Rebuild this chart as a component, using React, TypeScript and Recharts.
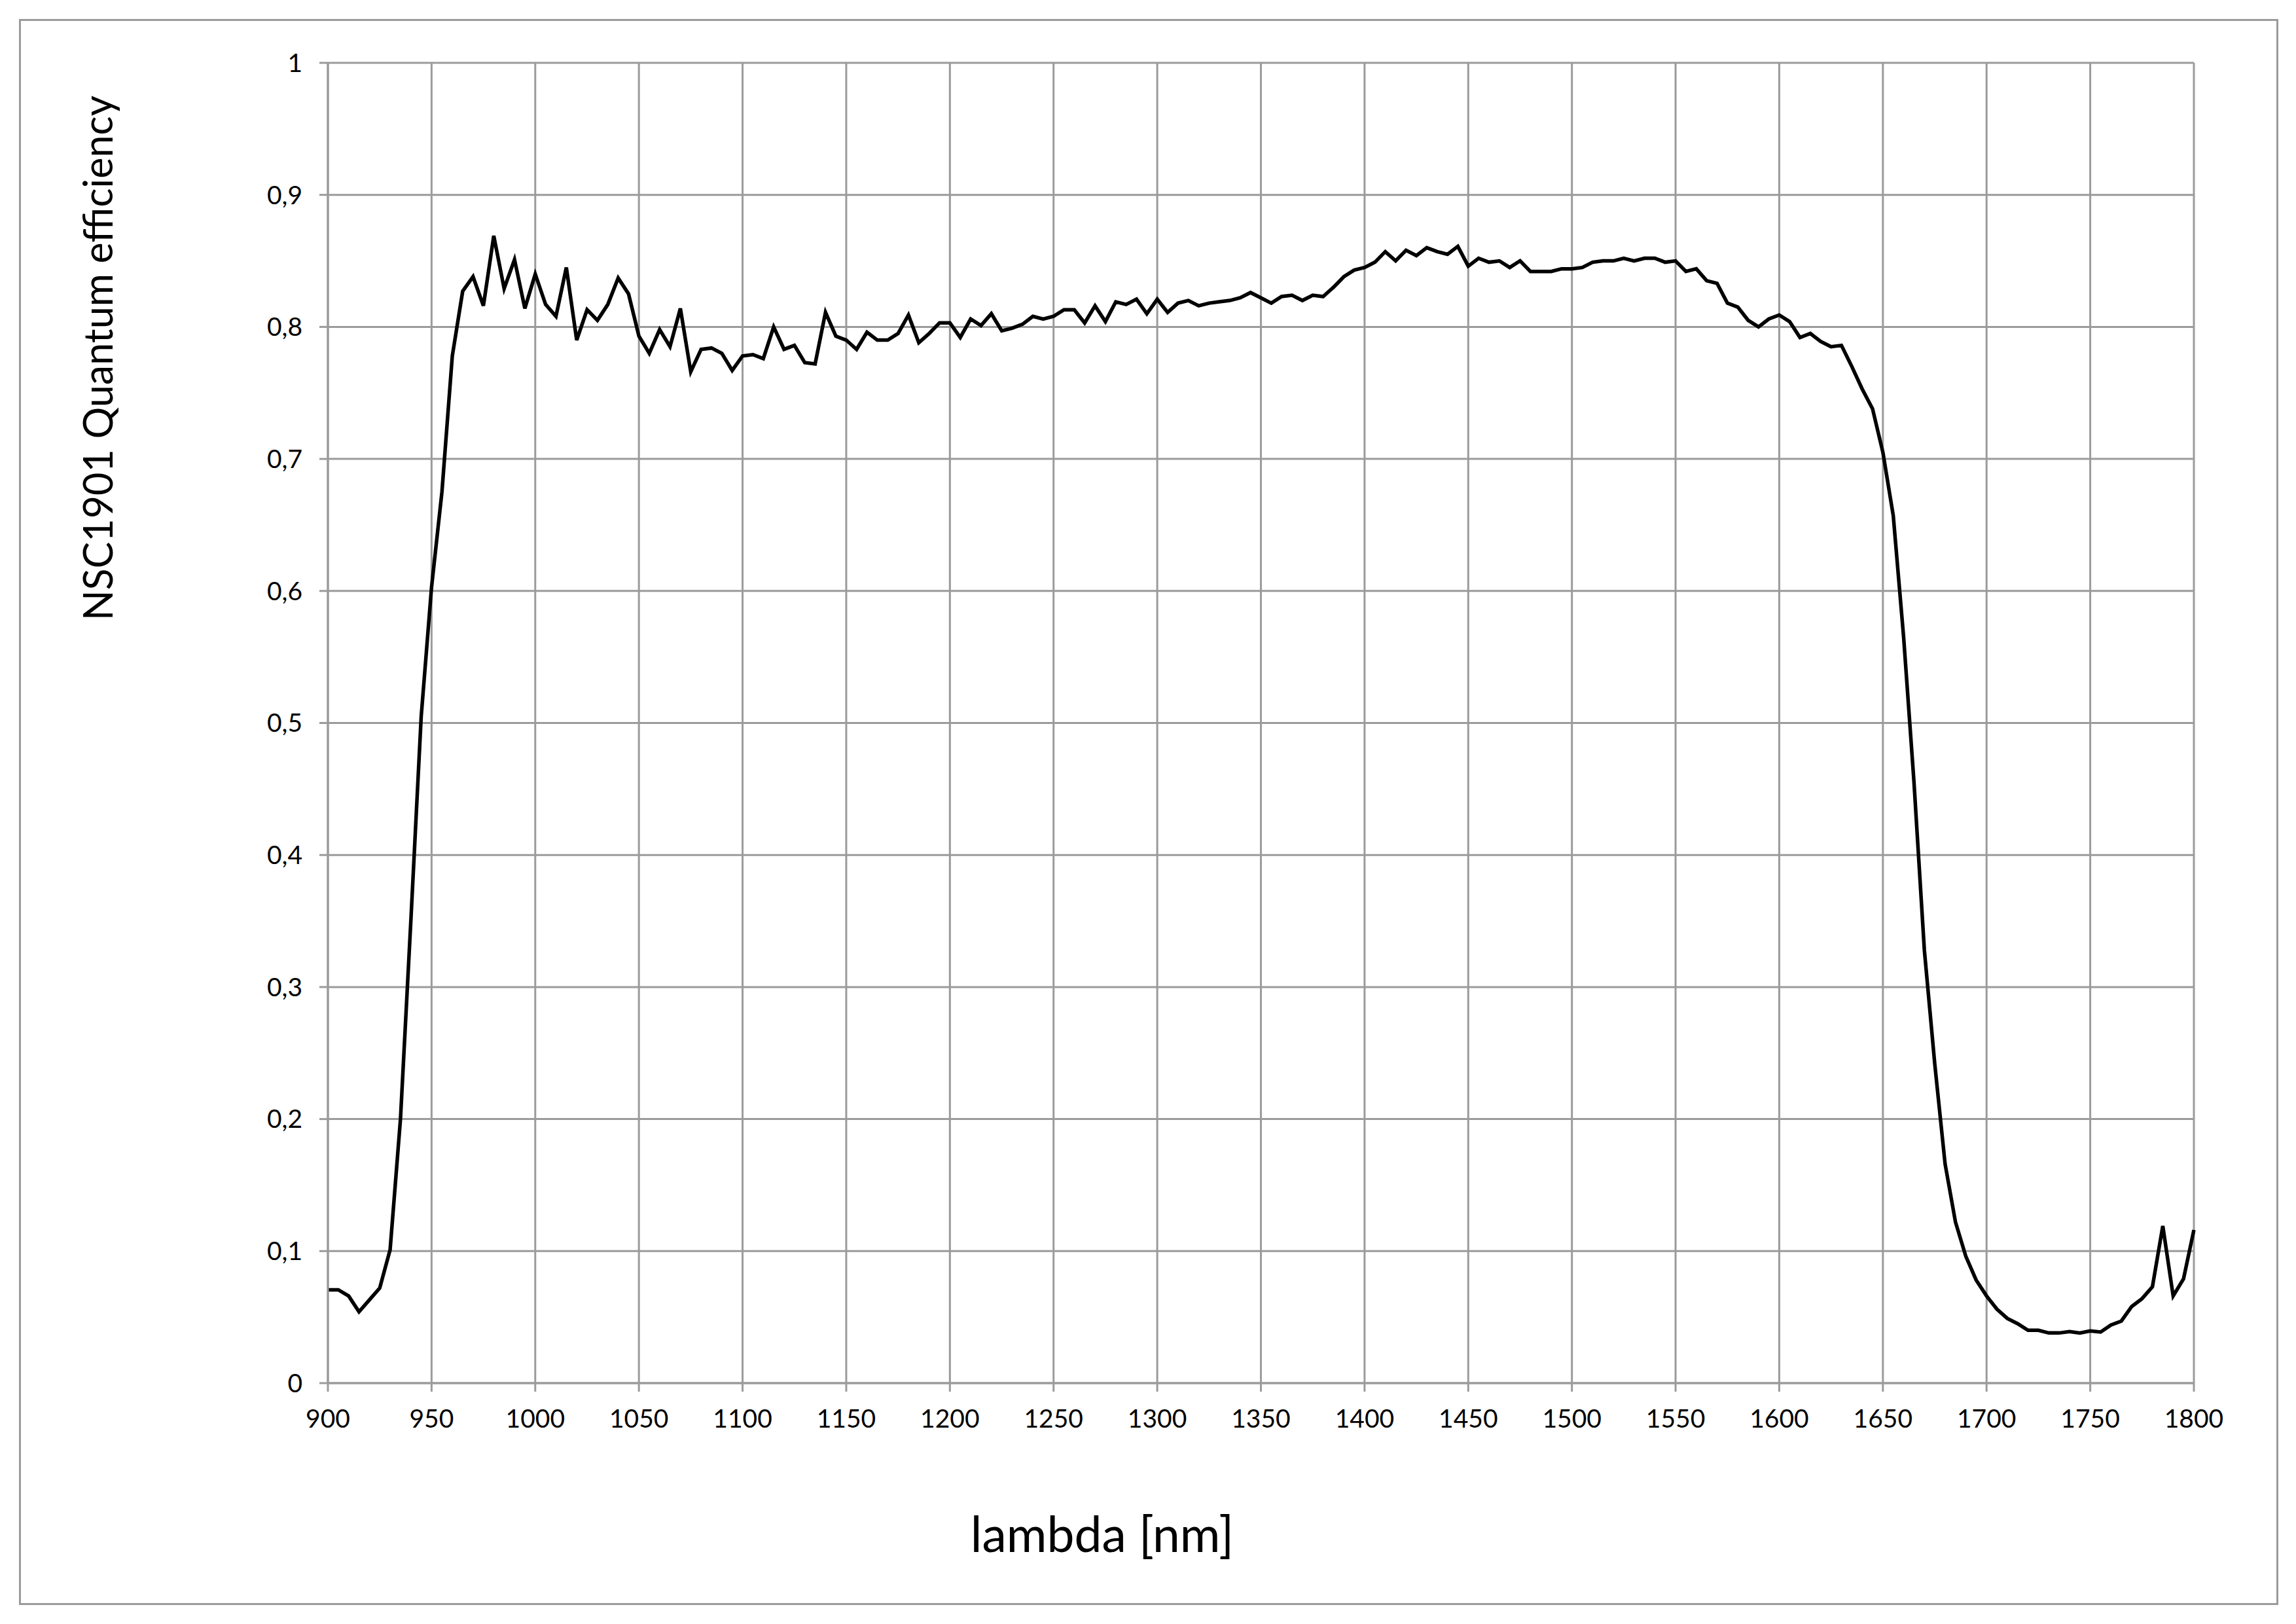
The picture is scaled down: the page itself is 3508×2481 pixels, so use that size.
import { LineChart, Line, XAxis, YAxis, CartesianGrid } from "recharts";

const W = 3508;
const H = 2481;
const GRID = "#9b9b9b";
const FONT = "Lato, 'Open Sans', sans-serif";

// wavelength samples [nm]
const wavelengths = [
  900, 905, 910, 915, 920, 925, 930, 935, 940, 945, 950, 955, 960, 965, 970, 975, 980, 985, 990, 995,
  1000, 1005, 1010, 1015, 1020, 1025, 1030, 1035, 1040, 1045, 1050, 1055, 1060, 1065, 1070, 1075, 1080, 1085, 1090, 1095,
  1100, 1105, 1110, 1115, 1120, 1125, 1130, 1135, 1140, 1145, 1150, 1155, 1160, 1165, 1170, 1175, 1180, 1185, 1190, 1195,
  1200, 1205, 1210, 1215, 1220, 1225, 1230, 1235, 1240, 1245, 1250, 1255, 1260, 1265, 1270, 1275, 1280, 1285, 1290, 1295,
  1300, 1305, 1310, 1315, 1320, 1325, 1330, 1335, 1340, 1345, 1350, 1355, 1360, 1365, 1370, 1375, 1380, 1385, 1390, 1395,
  1400, 1405, 1410, 1415, 1420, 1425, 1430, 1435, 1440, 1445, 1450, 1455, 1460, 1465, 1470, 1475, 1480, 1485, 1490, 1495,
  1500, 1505, 1510, 1515, 1520, 1525, 1530, 1535, 1540, 1545, 1550, 1555, 1560, 1565, 1570, 1575, 1580, 1585, 1590, 1595,
  1600, 1605, 1610, 1615, 1620, 1625, 1630, 1635, 1640, 1645, 1650, 1655, 1660, 1665, 1670, 1675, 1680, 1685, 1690, 1695,
  1700, 1705, 1710, 1715, 1720, 1725, 1730, 1735, 1740, 1745, 1750, 1755, 1760, 1765, 1770, 1775, 1780, 1785, 1790, 1795,
  1800,
];

// quantum efficiency
const efficiency = [
  0.0707, 0.0707, 0.066, 0.054, 0.063, 0.072, 0.101, 0.2, 0.35, 0.505, 0.603, 0.675, 0.778, 0.827, 0.838, 0.816, 0.869, 0.829, 0.851, 0.814,
  0.84, 0.817, 0.808, 0.845, 0.79, 0.813, 0.805, 0.817, 0.837, 0.825, 0.793, 0.78, 0.798, 0.785, 0.814, 0.766, 0.783, 0.784, 0.78, 0.767,
  0.778, 0.779, 0.776, 0.8, 0.783, 0.786, 0.773, 0.772, 0.811, 0.793, 0.79, 0.783, 0.796, 0.79, 0.79, 0.795, 0.809, 0.788, 0.795, 0.803,
  0.803, 0.792, 0.806, 0.801, 0.81, 0.797, 0.799, 0.802, 0.808, 0.806, 0.808, 0.813, 0.813, 0.803, 0.816, 0.804, 0.819, 0.817, 0.821, 0.81,
  0.821, 0.811, 0.818, 0.82, 0.816, 0.818, 0.819, 0.82, 0.822, 0.826, 0.822, 0.818, 0.823, 0.824, 0.82, 0.824, 0.823, 0.83, 0.838, 0.843,
  0.845, 0.849, 0.857, 0.85, 0.858, 0.854, 0.86, 0.857, 0.855, 0.861, 0.846, 0.852, 0.849, 0.85, 0.845, 0.85, 0.842, 0.842, 0.842, 0.844,
  0.844, 0.845, 0.849, 0.85, 0.85, 0.852, 0.85, 0.852, 0.852, 0.849, 0.85, 0.842, 0.844, 0.835, 0.833, 0.818, 0.815, 0.805, 0.8, 0.806,
  0.809, 0.804, 0.792, 0.795, 0.789, 0.785, 0.786, 0.77, 0.753, 0.738, 0.705, 0.657, 0.565, 0.455, 0.328, 0.242, 0.166, 0.122, 0.096, 0.078,
  0.066, 0.056, 0.049, 0.045, 0.04, 0.04, 0.038, 0.038, 0.039, 0.038, 0.0395, 0.0387, 0.044, 0.047, 0.058, 0.064, 0.073, 0.119, 0.066, 0.079,
  0.116,
];

const xTicks = [900, 950, 1000, 1050, 1100, 1150, 1200, 1250, 1300, 1350, 1400, 1450, 1500, 1550, 1600, 1650, 1700, 1750, 1800];
const yTicks = [0, 0.1, 0.2, 0.3, 0.4, 0.5, 0.6, 0.7, 0.8, 0.9, 1];

const xTitle = "lambda [nm]";
const yTitle = "NSC1901 Quantum efficiency";

const data = wavelengths.map((nm, i) => ({ nm, qe: efficiency[i] }));

// Excel-style decimal comma
const fmtY = (v: number) => (v === 0 || v === 1 ? String(v) : v.toFixed(1).replace(".", ","));

export default function App() {
  return (
    <div style={{ position: "absolute", left: 0, top: 0, width: W, height: H, background: "#fff" }}>
      {/* chart area border */}
      <div
        style={{
          position: "absolute",
          left: 29,
          top: 29,
          width: 3452,
          height: 2423,
          border: `3px solid ${GRID}`,
          boxSizing: "border-box",
        }}
      />
      <div style={{ position: "absolute", left: 0, top: 0 }}>
        {/* axis width/height take up the left/bottom space, so margins stay 0 there */}
        <LineChart width={W} height={H} data={data} margin={{ top: 96, right: 156, bottom: 0, left: 0 }}>
          <CartesianGrid stroke={GRID} strokeWidth={3} />
          <XAxis
            dataKey="nm"
            type="number"
            domain={[900, 1800]}
            ticks={xTicks}
            interval={0}
            height={368}
            tickSize={13}
            tickMargin={27}
            axisLine={{ stroke: GRID, strokeWidth: 3 }}
            tickLine={{ stroke: GRID, strokeWidth: 3 }}
            tick={{ fill: "#000", fontSize: 39, fontFamily: FONT }}
            label={{
              value: xTitle,
              content: () => (
                <text x={1684} y={2371} textAnchor="middle" fontSize={75} fontFamily={FONT} fill="#000">
                  {xTitle}
                </text>
              ),
            }}
          />
          <YAxis
            type="number"
            domain={[0, 1]}
            ticks={yTicks}
            interval={0}
            width={501}
            tickSize={13}
            tickMargin={26}
            tickFormatter={fmtY}
            axisLine={{ stroke: GRID, strokeWidth: 3 }}
            tickLine={{ stroke: GRID, strokeWidth: 3 }}
            tick={{ fill: "#000", fontSize: 39, fontFamily: FONT }}
            label={{
              value: yTitle,
              content: () => (
                <text
                  x={172}
                  y={547}
                  transform="rotate(-90 172 547)"
                  textAnchor="middle"
                  fontSize={61}
                  fontFamily={FONT}
                  fill="#000"
                >
                  {yTitle}
                </text>
              ),
            }}
          />
          <Line
            type="linear"
            dataKey="qe"
            stroke="#000"
            strokeWidth={5.5}
            dot={false}
            activeDot={false}
            isAnimationActive={false}
          />
        </LineChart>
      </div>
    </div>
  );
}
